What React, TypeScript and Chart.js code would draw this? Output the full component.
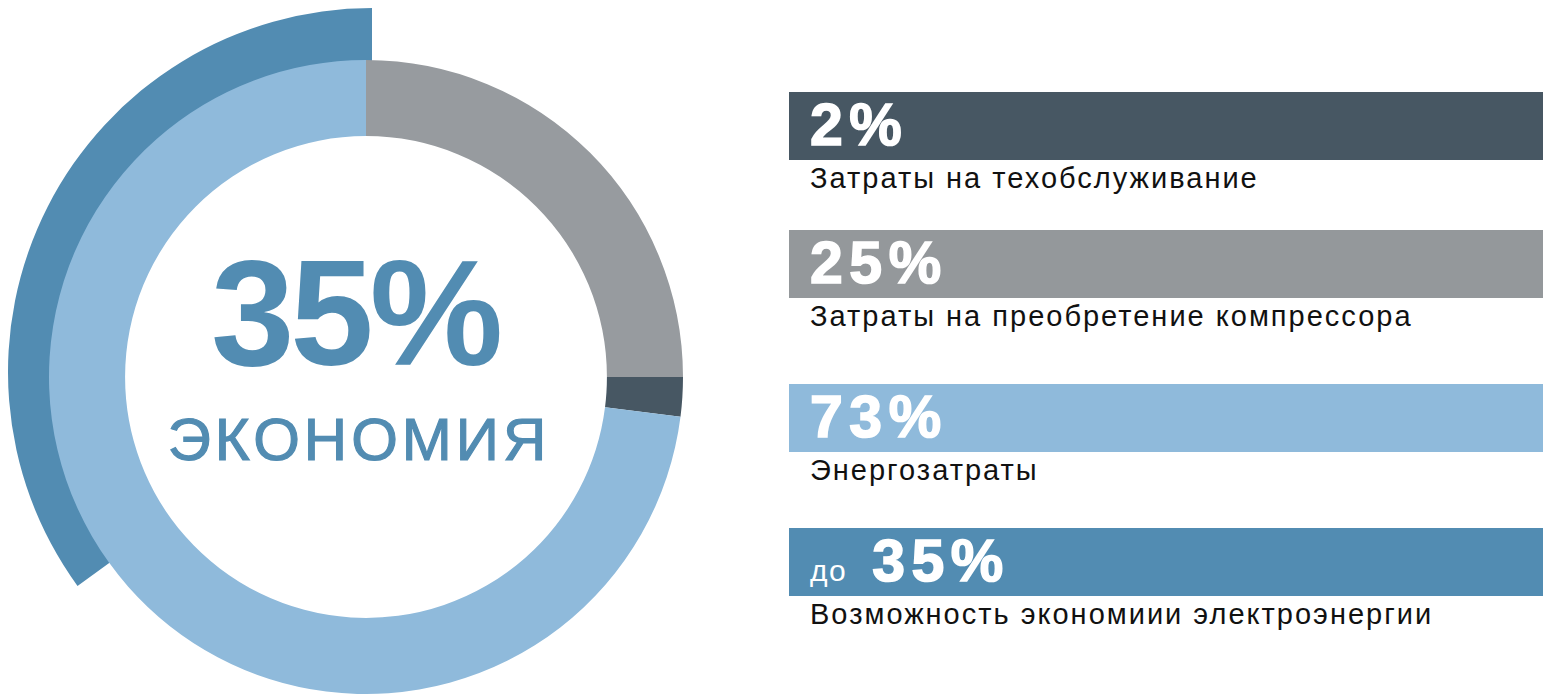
import React, { useEffect, useRef } from "react";
import { Chart, registerables } from "chart.js";

Chart.register(...registerables);

// Cost structure shown in the ring (clockwise from 12 o'clock)
const ringLabels = ["Затраты на преобретение компрессора", "Затраты на техобслуживание", "Энергозатраты"];
const ringValues = [25, 2, 73];
const ringColors = ["#979b9f", "#475763", "#8fbadb"];

// Potential savings arc around the ring
const savingsValue = 35;
const savingsColor = "#528cb2";
const centerTitle = "35%";
const centerSubtitle = "ЭКОНОМИЯ";

// Legend blocks on the right
const legendPrefixes = ["", "", "", "до"];
const legendValues = [2, 25, 73, 35];
const legendLabels = [
  "Затраты на техобслуживание",
  "Затраты на преобретение компрессора",
  "Энергозатраты",
  "Возможность экономиии электроэнергии",
];
const legendColors = ["#475763", "#94989b", "#8fbadb", "#528cb2"];
const legendTops = [92, 230, 384, 528];

const FONT = '"Liberation Sans", Arial, Helvetica, sans-serif';

const centerTextPlugin = {
  id: "centerText",
  afterDraw(chart: any) {
    const { ctx } = chart;
    const cx = chart.width / 2 - 11;
    ctx.save();
    ctx.fillStyle = savingsColor;
    ctx.strokeStyle = savingsColor;
    ctx.textAlign = "center";
    ctx.textBaseline = "alphabetic";
    ctx.font = `bold 150px ${FONT}`;
    (ctx as any).letterSpacing = "-4px";
    ctx.fillText(centerTitle, cx, 305);
    ctx.font = `60px ${FONT}`;
    (ctx as any).letterSpacing = "4px";
    ctx.lineWidth = 1.2;
    ctx.fillText(centerSubtitle, cx + 4, 400);
    ctx.strokeText(centerSubtitle, cx + 4, 400);
    ctx.restore();
  },
};

export default function App() {
  const outerRef = useRef<HTMLCanvasElement>(null);
  const ringRef = useRef<HTMLCanvasElement>(null);

  useEffect(() => {
    const outer = new Chart(outerRef.current!, {
      type: "doughnut",
      data: {
        labels: ["", "Экономия"],
        datasets: [
          {
            data: [100 - savingsValue, savingsValue],
            backgroundColor: ["rgba(0,0,0,0)", savingsColor],
            borderWidth: 0,
          },
        ],
      },
      options: {
        responsive: false,
        animation: false,
        cutout: "82%",
        rotation: 0,
        layout: { padding: 0 },
        plugins: { legend: { display: false }, tooltip: { enabled: false } },
        events: [],
      },
    });

    const ring = new Chart(ringRef.current!, {
      type: "doughnut",
      data: {
        labels: ringLabels,
        datasets: [
          {
            data: ringValues,
            backgroundColor: ringColors,
            borderWidth: 0,
          },
        ],
      },
      options: {
        responsive: false,
        animation: false,
        cutout: "76%",
        rotation: 0,
        layout: { padding: 0 },
        plugins: { legend: { display: false }, tooltip: { enabled: false } },
        events: [],
      },
      plugins: [centerTextPlugin],
    });

    return () => {
      outer.destroy();
      ring.destroy();
    };
  }, []);

  return (
    <div
      style={{
        position: "fixed",
        left: 0,
        top: 0,
        width: 1545,
        height: 698,
        background: "#ffffff",
        overflow: "hidden",
        fontFamily: FONT,
      }}
    >
      <canvas
        ref={outerRef}
        width={728}
        height={728}
        style={{ position: "absolute", left: 8, top: 8, width: 728, height: 728 }}
      />
      <canvas
        ref={ringRef}
        width={634}
        height={634}
        style={{ position: "absolute", left: 49, top: 60, width: 634, height: 634 }}
      />
      {legendValues.map((v, i) => (
        <div key={i}>
          <div
            style={{
              position: "absolute",
              left: 789,
              top: legendTops[i],
              width: 754,
              height: 68,
              background: legendColors[i],
            }}
          >
            <div
              style={{
                position: "absolute",
                left: 21,
                bottom: 5,
                color: "#ffffff",
                whiteSpace: "nowrap",
                lineHeight: 1,
              }}
            >
              {legendPrefixes[i] && (
                <span style={{ fontSize: 30, marginRight: 25, letterSpacing: 1.5 }}>{legendPrefixes[i]}</span>
              )}
              <span
                style={{
                  fontSize: 59,
                  fontWeight: 700,
                  letterSpacing: 6.5,
                  WebkitTextStroke: "1.6px #ffffff",
                }}
              >
                {v}%
              </span>
            </div>
          </div>
          <div
            style={{
              position: "absolute",
              left: 810,
              top: legendTops[i] + 69,
              fontSize: 29,
              letterSpacing: 2,
              color: "#111111",
              whiteSpace: "nowrap",
              lineHeight: "34px",
            }}
          >
            {legendLabels[i]}
          </div>
        </div>
      ))}
    </div>
  );
}
